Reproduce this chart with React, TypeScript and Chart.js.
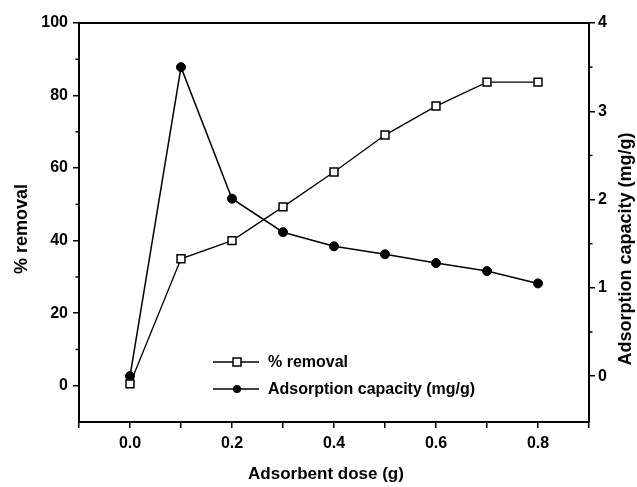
import React, { useEffect, useRef } from "react";
import { Chart, registerables } from "chart.js";
Chart.register(...registerables);

const doses = [0, 0.1, 0.2, 0.3, 0.4, 0.5, 0.6, 0.7, 0.8];
const removal = [0.5, 35, 40, 49.3, 58.9, 69.1, 77.1, 83.7, 83.7];
const capacity = [0, 3.5, 2.01, 1.63, 1.47, 1.38, 1.28, 1.19, 1.05];
const xTicks = [-0.1, 0, 0.1, 0.2, 0.3, 0.4, 0.5, 0.6, 0.7, 0.8, 0.9];
const xLabeled = [0, 0.2, 0.4, 0.6, 0.8];
const leftTicks = [0, 20, 40, 60, 80, 100];
const leftMinor = [10, 30, 50, 70, 90];
const rightTicks = [0, 1, 2, 3, 4];
const rightMinor = [0.5, 1.5, 2.5, 3.5];
const seriesNames = ["% removal", "Adsorption capacity (mg/g)"];
const xTitle = "Adsorbent dose (g)";
const yTitle = "% removal";
const y2Title = "Adsorption capacity (mg/g)";

const FONT = "'Liberation Sans', Arial, sans-serif";

const framePlugin = {
  id: "frame",
  afterDraw(chart: any) {
    const { ctx, chartArea, scales } = chart;
    ctx.save();
    ctx.strokeStyle = "#000";
    ctx.fillStyle = "#000";
    // top frame line
    ctx.lineWidth = 2;
    ctx.beginPath();
    ctx.moveTo(chartArea.left - 1, chartArea.top);
    ctx.lineTo(chartArea.right + 1, chartArea.top);
    ctx.stroke();
    // minor ticks
    ctx.lineWidth = 1.5;
    leftMinor.forEach((v) => {
      const y = scales.y.getPixelForValue(v);
      ctx.beginPath();
      ctx.moveTo(chartArea.left, y);
      ctx.lineTo(chartArea.left - 3.5, y);
      ctx.stroke();
    });
    rightMinor.forEach((v) => {
      const y = scales.y2.getPixelForValue(v);
      ctx.beginPath();
      ctx.moveTo(chartArea.right, y);
      ctx.lineTo(chartArea.right + 3.5, y);
      ctx.stroke();
    });
    // titles
    ctx.font = `bold 17px ${FONT}`;
    ctx.textAlign = "center";
    ctx.textBaseline = "middle";
    ctx.fillText(xTitle, (chartArea.left + chartArea.right) / 2 - 8, 474);
    ctx.font = `bold 18px ${FONT}`;
    ctx.save();
    ctx.translate(22, 229);
    ctx.rotate(-Math.PI / 2);
    ctx.fillText(yTitle, 0, 0);
    ctx.restore();
    ctx.save();
    ctx.translate(626, 249);
    ctx.rotate(-Math.PI / 2);
    ctx.fillText(y2Title, 0, 0);
    ctx.restore();
    // legend
    const rows = [362, 389];
    ctx.font = `bold 16px ${FONT}`;
    ctx.textAlign = "left";
    rows.forEach((ry, i) => {
      ctx.lineWidth = 1.5;
      ctx.beginPath();
      ctx.moveTo(213, ry);
      ctx.lineTo(259, ry);
      ctx.stroke();
      if (i === 0) {
        ctx.fillStyle = "#fff";
        ctx.fillRect(233, ry - 4, 8, 8);
        ctx.strokeRect(233, ry - 4, 8, 8);
      } else {
        ctx.fillStyle = "#000";
        ctx.beginPath();
        ctx.arc(237, ry, 4, 0, Math.PI * 2);
        ctx.fill();
      }
      ctx.fillStyle = "#000";
      ctx.fillText(seriesNames[i], 268, ry + 1);
    });
    ctx.restore();
  },
};

export default function App() {
  const ref = useRef<HTMLCanvasElement>(null);
  useEffect(() => {
    if (!ref.current) return;
    Chart.defaults.font.family = FONT;
    const tickFont = { size: 16, weight: "bold" as const, family: FONT };
    const chart = new Chart(ref.current, {
      type: "line",
      data: {
        datasets: [
          {
            label: seriesNames[0],
            data: doses.map((d, i) => ({ x: d, y: removal[i] })),
            yAxisID: "y",
            borderColor: "#000",
            borderWidth: 1.3,
            pointStyle: "rect",
            pointRadius: 5.6,
            pointBackgroundColor: "#fff",
            pointBorderColor: "#000",
            pointBorderWidth: 1.5,
            tension: 0,
          },
          {
            label: seriesNames[1],
            data: doses.map((d, i) => ({ x: d, y: capacity[i] })),
            yAxisID: "y2",
            borderColor: "#000",
            borderWidth: 1.5,
            pointStyle: "circle",
            pointRadius: 4.5,
            pointBackgroundColor: "#000",
            pointBorderColor: "#000",
            pointBorderWidth: 1,
            tension: 0,
          },
        ],
      },
      options: {
        animation: false,
        responsive: false,
        devicePixelRatio: 1,
        layout: { padding: { top: 23, left: 0, right: 0, bottom: 0 } },
        plugins: { legend: { display: false }, tooltip: { enabled: false } },
        scales: {
          x: {
            type: "linear",
            min: -0.1,
            max: 0.9,
            afterBuildTicks: (s: any) => {
              s.ticks = xTicks.map((v) => ({ value: v }));
            },
            afterFit: (s: any) => {
              s.height = 65;
            },
            border: { color: "#000", width: 2 },
            grid: { drawOnChartArea: false, color: "#000", lineWidth: 1.5, tickLength: 6 },
            ticks: {
              color: "#000",
              font: tickFont,
              padding: 6,
              maxRotation: 0,
              autoSkip: false,
              callback: (v: any) => {
                const n = Number(v);
                return xLabeled.some((t) => Math.abs(t - n) < 1e-6) ? n.toFixed(1) : "";
              },
            },
          },
          y: {
            type: "linear",
            position: "left",
            min: -10,
            max: 100,
            afterBuildTicks: (s: any) => {
              s.ticks = leftTicks.map((v) => ({ value: v }));
            },
            afterFit: (s: any) => {
              s.width = 79;
            },
            border: { color: "#000", width: 2 },
            grid: { drawOnChartArea: false, color: "#000", lineWidth: 1.5, tickLength: 6 },
            ticks: { color: "#000", font: tickFont, padding: 5, callback: (v: any) => String(v) },
          },
          y2: {
            type: "linear",
            position: "right",
            min: -0.52,
            max: 4,
            afterBuildTicks: (s: any) => {
              s.ticks = rightTicks.map((v) => ({ value: v }));
            },
            afterFit: (s: any) => {
              s.width = 48;
            },
            border: { color: "#000", width: 2 },
            grid: { drawOnChartArea: false, color: "#000", lineWidth: 1.5, tickLength: 6 },
            ticks: { color: "#000", font: tickFont, padding: 3, callback: (v: any) => String(v) },
          },
        },
      },
      plugins: [framePlugin],
    });
    return () => chart.destroy();
  }, []);
  return (
    <div style={{ position: "fixed", left: 0, top: 0, width: 637, height: 487, background: "#fff" }}>
      <canvas ref={ref} width={637} height={487} style={{ display: "block" }} />
    </div>
  );
}
